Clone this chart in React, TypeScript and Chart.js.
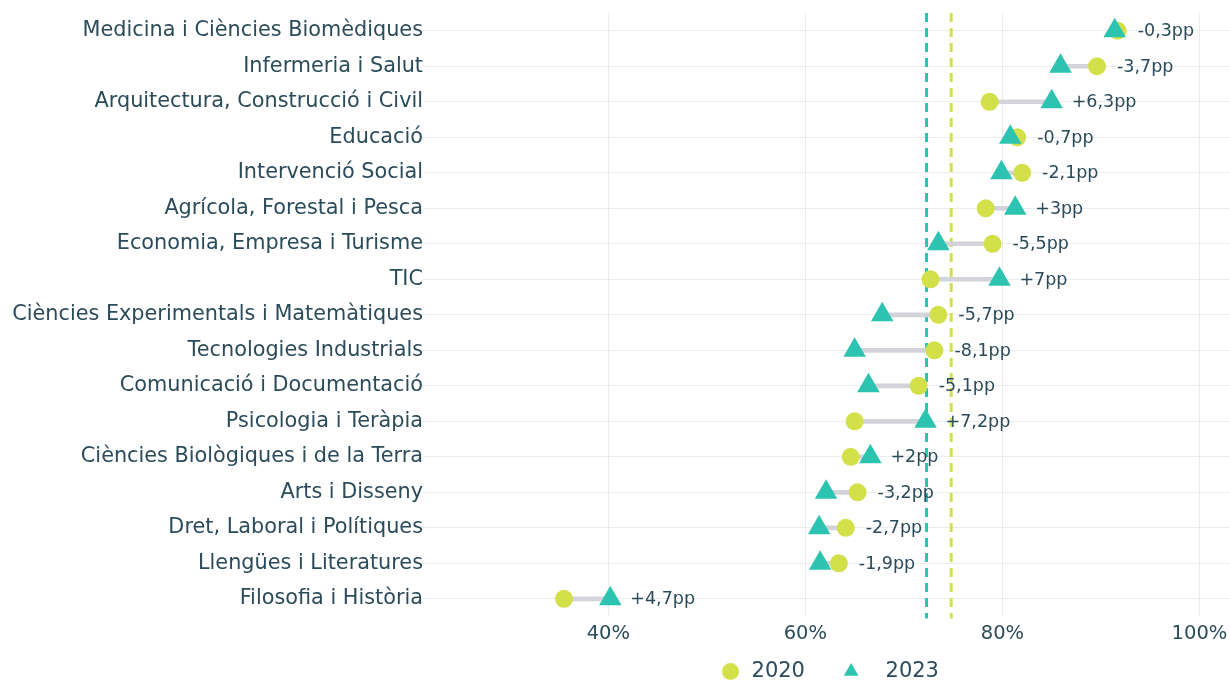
import React, { useEffect, useRef } from "react";
import { Chart, registerables } from "chart.js";

Chart.register(...registerables);

const categories = [
  "Medicina i Ciències Biomèdiques",
  "Infermeria i Salut",
  "Arquitectura, Construcció i Civil",
  "Educació",
  "Intervenció Social",
  "Agrícola, Forestal i Pesca",
  "Economia, Empresa i Turisme",
  "TIC",
  "Ciències Experimentals i Matemàtiques",
  "Tecnologies Industrials",
  "Comunicació i Documentació",
  "Psicologia i Teràpia",
  "Ciències Biològiques i de la Terra",
  "Arts i Disseny",
  "Dret, Laboral i Polítiques",
  "Llengües i Literatures",
  "Filosofia i Història",
];

const values2020 = [91.7, 89.6, 78.7, 81.5, 82.0, 78.3, 79.0, 72.7, 73.5, 73.1, 71.5, 65.0, 64.6, 65.3, 64.1, 63.4, 35.5];
const values2023 = [91.4, 85.9, 85.0, 80.8, 79.9, 81.3, 73.5, 79.7, 67.8, 65.0, 66.4, 72.2, 66.6, 62.1, 61.4, 61.5, 40.2];
const diffLabels = ["-0,3pp", "-3,7pp", "+6,3pp", "-0,7pp", "-2,1pp", "+3pp", "-5,5pp", "+7pp", "-5,7pp", "-8,1pp", "-5,1pp", "+7,2pp", "+2pp", "-3,2pp", "-2,7pp", "-1,9pp", "+4,7pp"];
const avg2020 = 74.8;
const avg2023 = 72.3;
const xTicks = [40, 60, 80, 100];
const legendTexts = ["2020    ", "  2023"];

const YELLOW = "#d3e04a";
const TEAL = "#2cc4b1";
const GREY = "#d2d4d9";
const TEXT = "#2b4b5a";
const FONT = "'DejaVu Sans'";

export default function App() {
  const ref = useRef<HTMLCanvasElement>(null);
  useEffect(() => {
    if (!ref.current) return;
    const avgLines = {
      id: "avgLines",
      beforeDatasetsDraw(chart: any) {
        const { ctx, chartArea, scales } = chart;
        const draw = (v: number, c: string) => {
          const x = scales.x.getPixelForValue(v);
          ctx.save();
          ctx.strokeStyle = c;
          ctx.lineWidth = 3;
          ctx.setLineDash([9, 6]);
          ctx.beginPath();
          ctx.moveTo(x, chartArea.top);
          ctx.lineTo(x, chartArea.bottom + 2);
          ctx.stroke();
          ctx.restore();
        };
        draw(avg2023, TEAL);
        draw(avg2020, YELLOW);
      },
    };
    const diffText = {
      id: "diffText",
      afterDatasetsDraw(chart: any) {
        const { ctx, scales } = chart;
        ctx.save();
        ctx.font = `17.5px ${FONT}`;
        ctx.fillStyle = TEXT;
        ctx.textAlign = "left";
        ctx.textBaseline = "middle";
        categories.forEach((_, i) => {
          const m = Math.max(values2020[i], values2023[i]);
          const x = scales.x.getPixelForValue(m) + 20;
          const y = scales.y.getPixelForValue(i);
          ctx.fillText(diffLabels[i], x, y + 1);
        });
        ctx.restore();
      },
    };
    const defaultLabels = (Chart as any).defaults.plugins.legend.labels.generateLabels;
    const chart = new Chart(ref.current, {
      type: "bar",
      data: {
        labels: categories,
        datasets: [
          {
            type: "bar",
            label: "range",
            indexAxis: "y",
            data: categories.map((_, i) => [values2020[i], values2023[i]]),
            backgroundColor: GREY,
            barThickness: 4,
            order: 2,
          } as any,
          {
            type: "line",
            label: "2020",
            indexAxis: "y",
            data: values2020,
            showLine: false,
            pointStyle: "circle",
            pointRadius: 9,
            pointHoverRadius: 9,
            pointBorderWidth: 0,
            backgroundColor: YELLOW,
            borderColor: YELLOW,
            order: 1,
          } as any,
          {
            type: "line",
            label: "2023",
            indexAxis: "y",
            data: values2023,
            showLine: false,
            pointStyle: "triangle",
            pointRadius: 13,
            pointHoverRadius: 13,
            pointBorderWidth: 0,
            backgroundColor: TEAL,
            borderColor: TEAL,
            order: 0,
          } as any,
        ],
      },
      options: {
        indexAxis: "y",
        animation: false,
        responsive: false,
        maintainAspectRatio: false,
        layout: { autoPadding: false, padding: { top: 13, right: 0, left: 0, bottom: -10 } },
        scales: {
          x: {
            type: "linear",
            min: 21.8,
            max: 103.1,
            afterBuildTicks: (scale: any) => {
              scale.ticks = xTicks.map((v) => ({ value: v }));
            },
            afterFit: (scale: any) => {
              scale.paddingLeft = 0;
              scale.paddingRight = 0;
            },
            grid: { color: "#ececec", drawTicks: false, lineWidth: 1 },
            border: { display: false },
            ticks: {
              callback: (v: any) => `${v}%`,
              color: TEXT,
              font: { family: FONT, size: 19.5 },
              padding: 6,
            },
          },
          y: {
            type: "category",
            offset: true,
            afterFit: (scale: any) => {
              scale.width = 429;
            },
            grid: { color: "#ececec", tickLength: 6, lineWidth: 1, offset: false },
            border: { display: false },
            ticks: {
              color: TEXT,
              font: { family: FONT, size: 20.8 },
              padding: 0,
              autoSkip: false,
            },
          },
        },
        plugins: {
          tooltip: { enabled: false },
          legend: {
            position: "bottom",
            fullSize: false,
            labels: {
              usePointStyle: true,
              boxWidth: 21,
              boxHeight: 12,
              padding: 9,
              color: TEXT,
              font: { family: FONT, size: 21 },
              generateLabels: (c: any) =>
                defaultLabels(c)
                  .filter((item: any) => item.text !== "range")
                  .sort((a: any, b: any) => a.datasetIndex - b.datasetIndex)
                  .map((item: any, k: number) => ({ ...item, text: legendTexts[k] })),
            },
          },
        },
      } as any,
      plugins: [avgLines, diffText],
    });
    return () => chart.destroy();
  }, []);
  return (
    <div style={{ position: "fixed", left: 0, top: 0, width: 1230, height: 682, background: "#fff" }}>
      <canvas ref={ref} width={1230} height={682} style={{ width: 1230, height: 682 }} />
    </div>
  );
}
